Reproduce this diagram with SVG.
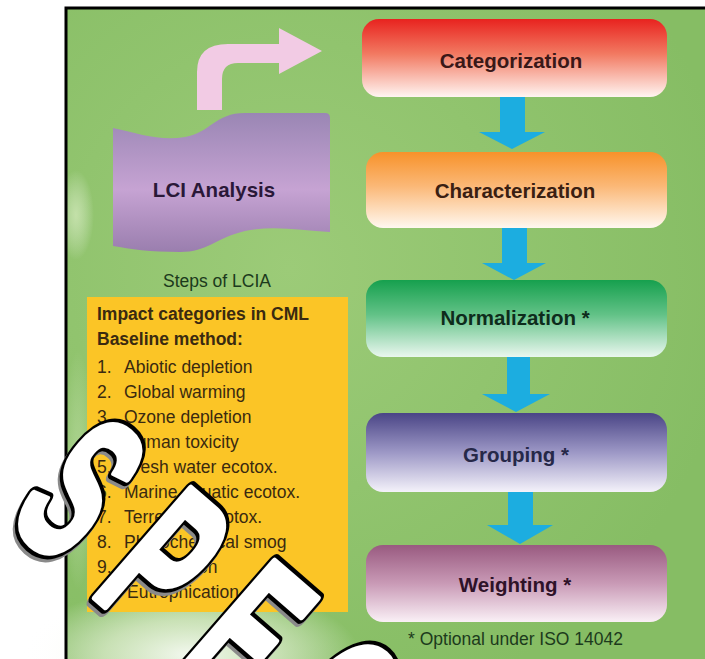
<svg xmlns="http://www.w3.org/2000/svg" xmlns:xlink="http://www.w3.org/1999/xlink" width="705" height="659" viewBox="0 0 705 659">
<defs>
<style>
.lbl{font-family:"Liberation Sans",Arial,sans-serif;font-weight:bold;font-size:20.5px;text-anchor:middle}
.txt{font-family:"Liberation Sans",Arial,sans-serif;font-size:17.5px;fill:#3a2a10}
.bt{font-weight:bold}
.note{font-family:"Liberation Sans",Arial,sans-serif;font-size:17.5px;fill:#1c3a1c}
.down{fill:#1cade0}
.wm{font-family:"Liberation Sans",Arial,sans-serif;font-weight:bold;font-size:210px;vector-effect:non-scaling-stroke;stroke-linejoin:round}
</style>
<linearGradient id="gCat" x1="0" y1="0" x2="0" y2="1"><stop offset="0" stop-color="#e8231f"/><stop offset="0.45" stop-color="#f27a62"/><stop offset="1" stop-color="#fff5f2"/></linearGradient>
<linearGradient id="gChar" x1="0" y1="0" x2="0" y2="1"><stop offset="0" stop-color="#f7922a"/><stop offset="0.45" stop-color="#fbb877"/><stop offset="1" stop-color="#fff8f0"/></linearGradient>
<linearGradient id="gNorm" x1="0" y1="0" x2="0" y2="1"><stop offset="0" stop-color="#16a04e"/><stop offset="0.45" stop-color="#62c287"/><stop offset="1" stop-color="#eaf7ef"/></linearGradient>
<linearGradient id="gGrp" x1="0" y1="0" x2="0" y2="1"><stop offset="0" stop-color="#4a4586"/><stop offset="0.5" stop-color="#9d98c6"/><stop offset="1" stop-color="#f4f2fa"/></linearGradient>
<linearGradient id="gWgt" x1="0" y1="0" x2="0" y2="1"><stop offset="0" stop-color="#995a80"/><stop offset="0.5" stop-color="#c99ab6"/><stop offset="1" stop-color="#faf0f6"/></linearGradient>
<linearGradient id="gLci" x1="0" y1="0" x2="0" y2="1"><stop offset="0" stop-color="#9a86b4"/><stop offset="0.55" stop-color="#c6a3d3"/><stop offset="1" stop-color="#9a7eae"/></linearGradient>
<radialGradient id="glare1" cx="0.5" cy="0.5" r="0.5"><stop offset="0" stop-color="#ffffff" stop-opacity="0.9"/><stop offset="0.5" stop-color="#f4f8ea" stop-opacity="0.6"/><stop offset="1" stop-color="#ffffff" stop-opacity="0"/></radialGradient>
<radialGradient id="glare2" cx="0.5" cy="0.5" r="0.5"><stop offset="0" stop-color="#e4f3cf" stop-opacity="0.6"/><stop offset="1" stop-color="#ffffff" stop-opacity="0"/></radialGradient>
<radialGradient id="bgShade" cx="0.35" cy="0.4" r="0.7"><stop offset="0" stop-color="#9ccb78"/><stop offset="1" stop-color="#86bd64"/></radialGradient>
<text id="wmT" class="wm" transform="scale(0.52,1)" x="-213.5" y="-6.5" letter-spacing="73.5">SPEC</text>
</defs>

<rect x="0" y="0" width="705" height="659" fill="#ffffff"/>
<g id="background">
<rect x="66" y="8" width="639" height="651" fill="url(#bgShade)"/>
<ellipse cx="190" cy="655" rx="170" ry="70" fill="url(#glare1)"/>
<ellipse cx="76" cy="215" rx="18" ry="45" fill="url(#glare2)"/>
<ellipse cx="78" cy="470" rx="16" ry="120" fill="url(#glare2)" opacity="0.6"/>
<path d="M66,659 L66,8 L705,8" fill="none" stroke="#000000" stroke-width="3"/>
</g>

<g id="connectors">
<path id="curved-arrow" d="M197,110 L197,72 Q197,44 228,44 L279,44 L279,28 L322,51 L279,74 L279,63 L238,63 Q222,63 222,79 L222,110 Z" fill="#f2cbe4"/>
<path class="down" d="M500,97 L525,97 L525,132 L545,132 L512,149 L479,132 L500,132 Z"/>
<path class="down" d="M502,228 L527,228 L527,263 L546,263 L514,280 L482,263 L502,263 Z"/>
<path class="down" d="M507,357 L530,357 L530,394 L550,394 L516,412 L482,394 L507,394 Z"/>
<path class="down" d="M508,492 L533,492 L533,525 L553,525 L520,544 L487,525 L508,525 Z"/>
</g>

<g id="lci">
<path d="M113,128 C140,134 160,141 185,137 C210,133 215,113 245,113 L325,113 Q330,113 330,118 L330,232 C300,230 272,225 245,231 C215,238 208,252 180,252 C150,252 130,249 113,246 Z" fill="url(#gLci)"/>
<text class="lbl" x="214" y="197" font-size="19" fill="#2a1838">LCI Analysis</text>
</g>

<g id="steps-label">
<text class="note" x="217" y="287" text-anchor="middle">Steps of LCIA</text>
</g>

<g id="categorization">
<rect x="362" y="19" width="305" height="78" rx="17" fill="url(#gCat)"/>
<text class="lbl" x="511" y="68" fill="#3a1818">Categorization</text>
</g>
<g id="characterization">
<rect x="366" y="152" width="301" height="76" rx="17" fill="url(#gChar)"/>
<text class="lbl" x="515" y="198" fill="#3a2012">Characterization</text>
</g>
<g id="normalization">
<rect x="366" y="280" width="301" height="77" rx="17" fill="url(#gNorm)"/>
<text class="lbl" x="515" y="325" fill="#0e2c1c">Normalization *</text>
</g>
<g id="grouping">
<rect x="366" y="413" width="301" height="79" rx="17" fill="url(#gGrp)"/>
<text class="lbl" x="516" y="462" fill="#262848">Grouping *</text>
</g>
<g id="weighting">
<rect x="366" y="545" width="301" height="77" rx="17" fill="url(#gWgt)"/>
<text class="lbl" x="515" y="592" fill="#2e1228">Weighting *</text>
</g>

<g id="impact-box">
<rect x="87" y="297" width="261" height="315" fill="#fbc526"/>
<text class="txt bt" x="97" y="320">Impact categories in CML</text>
<text class="txt bt" x="97" y="345">Baseline method:</text>
<text class="txt" x="97" y="373">1.</text><text class="txt" x="124" y="373">Abiotic depletion</text>
<text class="txt" x="97" y="398">2.</text><text class="txt" x="124" y="398">Global warming</text>
<text class="txt" x="97" y="423">3.</text><text class="txt" x="124" y="423">Ozone depletion</text>
<text class="txt" x="97" y="448">4.</text><text class="txt" x="124" y="448">Human toxicity</text>
<text class="txt" x="97" y="473">5.</text><text class="txt" x="124" y="473">Fresh water ecotox.</text>
<text class="txt" x="97" y="498">6.</text><text class="txt" x="124" y="498">Marine aquatic ecotox.</text>
<text class="txt" x="97" y="523">7.</text><text class="txt" x="124" y="523">Terrestrial ecotox.</text>
<text class="txt" x="97" y="548">8.</text><text class="txt" x="124" y="548">Photochemical smog</text>
<text class="txt" x="97" y="573">9.</text><text class="txt" x="124" y="573">Acidification</text>
<text class="txt" x="97" y="598">10.</text><text class="txt" x="127" y="598">Eutrophication</text>
</g>

<g id="footnote">
<text class="note" x="408" y="645">* Optional under ISO 14042</text>
</g>

<g id="watermark" transform="translate(85,597) rotate(41)">
<use xlink:href="#wmT" transform="translate(0.5,3.6)" fill="#8a8a8a" stroke="#8a8a8a" stroke-width="13"/>
<use xlink:href="#wmT" fill="#000000" stroke="#000000" stroke-width="13"/>
<use xlink:href="#wmT" fill="#ffffff" stroke="#ffffff" stroke-width="6"/>
</g>
</svg>
